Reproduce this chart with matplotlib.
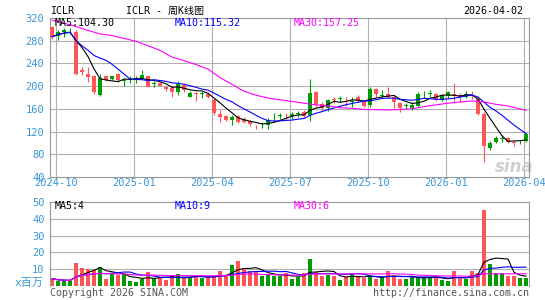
import numpy as np
import pandas as pd
import matplotlib
matplotlib.use('Agg')
import matplotlib.pyplot as plt

# weekly bars, Friday of each week
weeks = pd.date_range('2024-09-27', periods=80, freq='7D')

opens = [304, 288, 296, 298, 296, 228, 221, 218, 184, 217,
         212.5, 221, 209, 210, 213, 214, 218, 204, 205, 198,
         197, 189, 202, 181, 188, 186, 187, 175.5, 151, 147.5,
         140, 147.5, 143, 139, 130, 132.5, 131.5, 145.5, 147.5, 149.5,
         147.5, 151, 154, 149, 189, 168, 161, 176.5, 178, 176,
         171.5, 180, 172.6, 167, 195, 183.5, 187, 181, 170, 165,
         162, 165.6, 185.5, 186.5, 185.5, 175.5, 183, 187, 184, 181,
         184.5, 177, 151, 91, 101, 107.5, 108, 102, 101.5, 103]
highs = [306, 299, 302, 303, 299, 234, 234, 220, 221, 220,
         218, 223, 214, 217, 218, 228, 220, 209, 208, 200,
         202, 209, 205, 191, 190, 191, 189, 178.5, 158, 149,
         149, 149, 146, 141, 131.5, 136, 144, 152, 152, 152,
         155, 156, 158, 212, 191, 172, 178, 181, 183, 181,
         181, 184, 175.5, 199, 197.3, 193, 199, 184, 171.4, 169.7,
         171.5, 190.3, 191.4, 193, 187.3, 187, 191.4, 205, 187.3, 191.4,
         191.4, 181.4, 155, 103.3, 112.7, 113.9, 111, 103.3, 105, 117]
lows = [283, 281, 287, 291, 219, 220, 208, 187, 182, 209,
        211, 208, 201, 205, 206, 212, 198, 198, 200, 191,
        181, 184, 189, 181, 174, 178.5, 178.5, 149, 136, 138.5,
        131, 134.5, 134.5, 129.5, 124.5, 127, 124, 137.4, 142, 143,
        143, 146, 146, 139, 164, 156, 156.5, 169.7, 172.6, 165.6,
        163.8, 172.6, 163.8, 163.8, 181.4, 178.5, 178.5, 161, 155, 160,
        157.9, 163.8, 178.5, 181.4, 173.8, 173.8, 178.5, 171, 172.6, 178.5,
        177.3, 149, 67, 87.5, 99.2, 102, 99.2, 95, 97.5, 102]
closes = [287, 295, 298, 299.5, 221, 225, 216, 189, 214, 210,
          217, 210, 210.5, 213, 214, 220, 199, 205, 201, 195.5,
          189, 203, 193, 188, 186.5, 187.5, 181, 152, 146, 140,
          146, 136, 136, 133, 129, 133.5, 140, 146.5, 148.5, 148.5,
          151.5, 152, 148, 188, 167, 161, 176, 175, 179, 175,
          174, 174.5, 165.6, 195, 185.5, 184.5, 181, 172.6, 161, 166,
          167, 187, 186.5, 187.5, 175.5, 184, 189, 183, 181, 187,
          183.5, 151, 95, 100, 109, 108.5, 101, 99, 102.5, 115.6]
ma30 = [316, 313.5, 311, 308, 305, 301.5, 298, 295, 292, 290.5,
        289, 286.5, 284, 281.5, 279, 275, 271, 267, 263, 257,
        251, 248, 245, 241.5, 238, 234, 230, 222.5, 215, 209,
        203, 197, 191, 187.5, 184, 181.5, 179, 177.5, 176, 174.5,
        173, 171.5, 170, 168.5, 167, 166, 165, 163.5, 162, 161.5,
        161, 160, 159, 158.7, 158.5, 158.2, 158, 158.5, 159, 159.5,
        160, 162, 164, 165.5, 167, 168.5, 170, 171, 172, 173,
        174, 173, 172, 170, 168, 166.5, 165, 162.5, 160, 157.3]
volumes = [4.4, 3, 3, 3, 13.8, 10.6, 10, 9.4, 11.2, 4.4,
           7.4, 6.4, 7, 2.8, 2.2, 4.4, 8.2, 5, 5, 3.4,
           5.8, 7, 5, 5.4, 6.2, 4.8, 5.4, 6.2, 8.8, 6.2,
           12.4, 14.8, 10, 9, 8.4, 5.8, 6.6, 6.2, 5.8, 7.6,
           4, 5.6, 7.6, 16, 8.6, 5.8, 6.8, 5.8, 3.4, 5.2,
           7.6, 6.2, 4.6, 5.8, 4, 5.2, 8.8, 6.2, 4, 4,
           6, 5, 5.2, 5, 5.2, 3.4, 2.8, 8.8, 5, 4,
           8.8, 7.6, 45.4, 13.2, 8, 7.6, 6, 6, 4.8, 4.8]

price_ticks = [40, 80, 120, 160, 200, 240, 280, 320]
vol_ticks = [10, 20, 30, 40, 50]

RED = '#ff5555'
GREEN = '#009c00'
TICKC = '#3a96d8'
GRIDC = '#b0b0b0'
MONO = ['DejaVu Sans Mono', 'Noto Sans CJK SC']

o = np.array(opens); h = np.array(highs); l = np.array(lows); c = np.array(closes)
v = np.array(volumes)
x = np.arange(len(c))
cols = np.where(c >= o, GREEN, RED)

ma5 = pd.Series(c).rolling(5, min_periods=1).mean()
ma10 = pd.Series(c).rolling(10, min_periods=1).mean()
vma5 = pd.Series(v).rolling(5, min_periods=1).mean()
vma10 = pd.Series(v).rolling(10, min_periods=1).mean()
vma30 = pd.Series(v).rolling(30, min_periods=1).mean()

# quarter starts
qidx = [i for i in range(1, len(weeks))
        if weeks[i].month in (1, 4, 7, 10) and weeks[i].month != weeks[i-1].month]
qpos = [i - 0.3 for i in qidx]
qlab = [weeks[i].strftime('%Y-%m') for i in qidx]

fig = plt.figure(figsize=(5.45, 3.0), dpi=100)
W, H = 545.0, 300.0
ax1 = fig.add_axes([50/W, 1-177/H, 479/W, 159/H])
ax2 = fig.add_axes([50/W, 1-286/H, 479/W, 84/H])

# price panel
for y in price_ticks[1:-1]:
    ax1.axhline(y, color=GRIDC, lw=0.8, zorder=0)
for p in qpos:
    ax1.axvline(p, color=GRIDC, lw=0.8, zorder=0)
ax1.vlines(x, l, h, colors=cols, lw=0.8, zorder=2)
body = np.maximum(np.abs(c - o), 0.8)
ax1.bar(x, body, bottom=np.minimum(o, c), width=0.75, color=cols, zorder=3, linewidth=0)
ax1.plot(x, ma5, color='black', lw=0.8, zorder=4)
ax1.plot(x, ma10, color='#0000ff', lw=0.8, zorder=4)
ax1.plot(x, ma30, color='#ff00ff', lw=0.8, zorder=4)
ax1.set_xlim(-0.35, 79.5)
ax1.set_ylim(40, 320)
ax1.set_yticks(price_ticks)
ax1.set_yticklabels([str(t) for t in price_ticks], family=MONO, fontsize=7.5, color=TICKC)
ax1.set_xticks(qpos)
ax1.set_xticklabels(qlab, family=MONO, fontsize=7.5, color=TICKC)
ax1.tick_params(length=0, pad=1)
ax1.tick_params(axis='y', pad=4)
ax1.xaxis.get_majorticklabels()[-1].set_x(qpos[-1])
for s in ax1.spines.values():
    s.set_color('#999999')
    s.set_linewidth(0.8)
ax1.text(77.0, 58, 'sina', fontsize=12, style='italic', weight='bold',
         color='#cfcfcf', ha='center', va='center', zorder=1)

# volume panel
for y in vol_ticks[:-1]:
    ax2.axhline(y, color=GRIDC, lw=0.8, zorder=0)
ax2.bar(x, v, width=0.75, color=cols, linewidth=0, zorder=2)
ax2.plot(x, vma5, color='black', lw=0.8, zorder=3)
ax2.plot(x, vma10, color='#0000ff', lw=0.8, zorder=3)
ax2.plot(x, vma30, color='#ff00ff', lw=0.8, zorder=3)
ax2.set_xlim(-0.35, 79.5)
ax2.set_ylim(0, 50)
ax2.set_yticks(vol_ticks)
ax2.set_yticklabels([str(t) for t in vol_ticks], family=MONO, fontsize=7.5, color=TICKC)
ax2.set_xticks([])
ax2.tick_params(length=0, pad=4)
for s in ax2.spines.values():
    s.set_color('#999999')
    s.set_linewidth(0.8)
ax2.spines['bottom'].set_visible(False)

def ftext(px, py, s, color='black', ha='left', size=7.2):
    fig.text(px/W, 1-py/H, s, color=color, ha=ha, va='center', family=MONO, fontsize=size)

ftext(50, 11, 'ICLR')
ftext(165, 11, 'ICLR - 周K线图', ha='center')
ftext(523, 11, '2026-04-02', ha='right')
ftext(55, 23.5, 'MA5:104.30')
ftext(175, 23.5, 'MA10:115.32', color='#0000ff')
ftext(294, 23.5, 'MA30:157.25', color='#ff00ff')
ftext(55, 206, 'MA5:4')
ftext(175, 206, 'MA10:9', color='#0000ff')
ftext(294, 206, 'MA30:6', color='#ff00ff')
ftext(44, 283, 'x百万', color=TICKC, ha='right', size=8)
ftext(50, 292.5, 'Copyright 2026 SINA.COM', color='#555555')
ftext(529, 292.5, 'http://finance.sina.com.cn', color='#555555', ha='right')

fig.savefig('out.png', dpi=100)
